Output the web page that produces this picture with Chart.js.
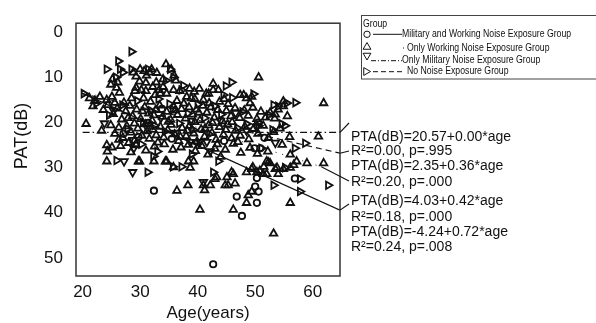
<!DOCTYPE html>
<html lang="en">
<head>
<meta charset="UTF-8">
<title>PAT by age</title>
<style>
  html, body { margin: 0; padding: 0; background: #fff; }
  #wrap { width: 596px; height: 323px; position: relative; }
</style>
</head>
<body>
<div id="wrap"><canvas id="chart"></canvas></div>
<script src="https://cdn.jsdelivr.net/npm/chart.js"></script>
<script>
const xTicks = [20, 30, 40, 50, 60];
const yTicks = [0, 10, 20, 30, 40, 50];
const groupLabels = [
    'Military and Working Noise Exposure Group',
    'Only Working Noise Exposure Group',
    'Only Military Noise Exposure Group',
    'No Noise Exposure Group'
];

// [age, dB]
const milWorkPts = [
    [27.1,22.5],[29.7,23.2],[31.4,20.1],[33.8,17.0],[35.5,23.6],[38.9,19.8],[44.6,24.1],[49.9,25.7],
    [50.9,25.7],[51.6,23.4],[50.5,20.0],[56.9,32.4],[32.4,35.1],[42.7,51.4],[46.8,36.4],[47.7,40.7],
    [50.6,35.3],[50.3,37.8],[50.3,32.3],[50.0,34.2]
];
const workPts = [
    // upper
    [25.2,10.4],[24.9,11.6],[26.1,11.1],[25.9,12.3],[28.8,8.9],[29.3,9.8],[30.0,8.2],[29.9,10.9],[30.7,8.6],
    [31.1,9.6],[31.6,8.9],[31.0,11.2],[32.0,8.2],[32.2,12.1],[32.9,9.0],[32.8,11.1],[30.2,12.8],[29.3,12.3],
    [31.0,13.0],[33.3,12.8],[34.5,7.1],[35.4,8.2],[35.9,9.6],[36.2,10.7],[34.0,10.4],[34.0,12.1],[42.7,11.4],
    [43.6,12.8],[50.6,10.0],[38.6,12.5],[40.3,12.5],[41.5,13.6],[36.9,13.0],
    // 12-16
    [23.0,14.3],[24.2,15.0],[25.1,14.3],[25.6,15.6],[26.4,13.4],[27.2,15.6],[28.5,14.6],[29.1,13.0],[30.6,14.6],
    [31.8,15.4],[32.6,13.9],[33.5,13.6],[34.6,13.6],[35.8,12.8],[36.4,15.2],[38.1,14.3],[39.4,13.2],[39.5,14.8],
    [41.0,15.0],[41.9,13.6],[42.0,15.7],[42.7,12.8],[43.8,15.4],[44.6,14.8],[47.4,13.9],[48.0,13.9],[48.5,14.6],
    [49.4,14.3],[49.1,15.7],[45.3,15.9],[54.9,16.4],[61.9,15.7],[37.6,15.8],[38.9,14.6],[22.1,15.2],[21.2,14.6],
    [53.5,18.2],[54.9,15.3],
    // 16-20
    [21.8,16.4],[23.6,17.2],[24.4,16.1],[25.3,18.1],[26.0,16.9],[26.8,19.3],[27.5,17.5],[28.2,16.3],[28.7,18.6],
    [29.4,17.1],[30.1,19.2],[30.8,16.6],[31.5,18.0],[32.1,19.6],[32.7,17.2],[33.4,16.2],[33.9,18.7],[34.6,17.6],
    [35.3,19.4],[35.8,16.4],[36.5,18.3],[37.2,17.0],[37.9,19.1],[38.5,16.6],[39.1,18.2],[39.8,17.1],[40.4,19.5],
    [40.9,16.3],[41.6,17.8],[42.3,16.6],[42.9,18.9],[43.5,17.2],[44.3,19.7],[45.0,17.4],[45.8,18.6],[46.5,16.8],
    [47.3,19.0],[48.1,17.3],[48.8,18.5],[49.6,16.7],[50.3,19.2],[51.0,17.6],[51.8,18.9],[52.6,17.8],[53.4,19.1],
    [54.0,17.1],[55.6,18.6],[27.9,19.0],[30.4,17.5],[32.4,18.4],[34.9,19.8],[36.1,17.3],[39.5,19.9],[40.2,17.8],
    [46.0,19.9],
    // 20-24
    [20.6,20.3],[23.3,21.8],[24.9,20.6],[25.6,22.5],[26.3,21.1],[27.0,23.4],[27.7,20.8],[28.4,22.2],[29.0,24.0],
    [29.6,21.3],[30.3,22.9],[30.9,20.4],[31.6,23.6],[32.2,21.6],[32.8,22.8],[33.5,20.9],[34.1,23.3],[34.8,21.7],
    [35.4,20.5],[36.0,22.6],[36.7,24.1],[37.3,21.2],[38.0,23.0],[38.6,20.7],[39.3,22.4],[39.9,24.2],[40.6,21.5],
    [41.2,23.1],[41.9,20.6],[42.5,22.3],[43.2,23.8],[43.8,21.0],[44.5,22.7],[45.2,20.4],[45.9,23.5],[46.6,21.8],
    [47.4,22.9],[48.2,20.9],[48.9,23.7],[49.7,21.4],[50.5,22.5],[51.4,20.7],[52.3,23.4],[53.2,22.1],[54.3,21.3],
    [56.0,23.2],[61.0,23.1],[29.0,20.2],[31.2,21.9],[37.0,23.2],[38.2,21.8],[41.3,21.3],[42.6,20.1],[44.9,21.6],
    [26.3,23.8],
    // 24-28
    [24.3,26.4],[24.2,25.0],[25.1,25.5],[26.6,25.2],[28.4,26.6],[29.3,25.0],[31.0,26.2],[32.5,25.3],[34.2,24.8],
    [35.7,26.0],[37.1,25.5],[38.4,24.9],[39.6,26.3],[40.7,25.2],[41.8,27.1],[43.0,25.8],[44.0,27.6],[44.8,26.0],
    [46.2,24.7],[47.5,26.7],[49.1,25.6],[50.4,26.9],[52.2,26.4],[54.7,24.9],[56.1,27.1],[33.1,24.4],[43.4,24.8],
    [47.0,24.3],[28.0,24.5],
    // 28 and lower
    [24.2,28.6],[29.7,28.6],[29.9,28.6],[32.4,28.6],[34.4,28.6],[34.6,28.6],[35.8,29.9],[36.4,35.1],[38.3,33.9],
    [38.4,28.6],[38.7,30.0],[39.3,28.6],[40.4,39.3],[41.0,33.9],[41.2,35.0],[42.2,33.9],[43.3,32.1],[43.0,32.5],
    [44.8,33.9],[45.1,32.1],[45.3,33.9],[46.2,31.4],[46.5,33.5],[45.9,31.0],[46.2,39.3],[48.8,36.1],[49.4,35.3],
    [48.5,37.8],[48.5,31.0],[49.4,30.3],[50.3,31.0],[51.4,31.4],[49.6,29.9],[50.8,30.7],[52.0,31.4],[51.5,29.8],
    [52.0,28.6],[52.6,29.0],[53.8,30.0],[54.0,31.4],[54.9,30.3],[56.1,30.0],[56.7,29.4],[57.2,28.6],[53.2,44.6],
    [56.1,37.8],[59.0,29.0],[61.9,29.0],[52.3,28.8],[53.5,30.3]
];
const milPts = [
    [27.2,28.6],[28.7,31.0],[28.9,25.7],[28.8,23.9],[31.2,21.1],[33.6,19.0],[36.2,22.3],[38.7,24.3],[39.8,24.3],
    [40.4,24.3],[41.6,24.3],[41.0,33.2],[42.2,26.4],[44.0,19.6],[46.6,17.9],[48.5,21.8],[50.2,20.9],[53.5,24.5],
    [23.8,20.2],[25.4,17.4]
];
const nonePts = [
    [28.5,4.3],[24.2,8.2],[26.2,6.4],[26.5,8.2],[27.0,8.9],[25.8,10.0],[28.5,8.2],[31.4,8.2],[35.2,8.2],
    [35.8,10.0],[34.5,10.7],[37.2,12.8],[45.9,11.1],[44.5,13.9],[49.7,13.7],[54.0,16.4],[55.5,15.7],[57.0,15.6],
    [53.2,16.1],[54.6,20.3],[20.2,13.6],[25.9,28.4],[31.3,31.0],[32.3,27.5],[35.7,29.8],[37.2,29.8],[42.7,31.0],
    [43.6,28.6],[53.2,33.9],[57.8,32.5],[62.7,33.9],[57.8,35.3],[58.7,24.6],[56.9,25.7],[55.2,30.0],
    [22.4,15.8],[24.6,18.4],[26.9,16.1],[27.8,21.4],[29.5,15.2],[30.5,20.0],[31.9,17.4],[32.5,20.7],[33.2,14.8],
    [34.3,22.0],[35.1,15.9],[35.7,17.1],[36.8,20.2],[37.5,11.8],[38.3,18.0],[39.2,21.6],[40.0,16.0],[41.2,19.0],
    [42.0,22.6],[43.0,16.4],[44.1,18.2],[44.9,11.9],[46.0,14.5],[46.9,21.2],[47.8,17.6],[48.5,20.3],[50.6,20.7],
    [51.1,25.7],[52.4,18.3],[53.0,21.6],[55.2,20.7],[30.2,24.8],[33.0,26.4],[39.0,27.0]
];

// fitted lines as drawn in the picture (end points)
const milWorkFit = [[19.9, 13.5], [64.75, 39.4]];
const workFit = [[19.9, 13.0], [61.5, 29.8]];
const milFit = [[20.0, 22.2], [64.75, 22.2]];
const noneFit = [[19.9, 13.6], [64.75, 26.8]];

const eqLines = [
    'PTA(dB)=20.57+0.00*age', 'R²=0.00, p=.995',
    'PTA(dB)=2.35+0.36*age', 'R²=0.20, p=.000',
    'PTA(dB)=4.03+0.42*age', 'R²=0.18, p=.000',
    'PTA(dB)=-4.24+0.72*age', 'R²=0.24, p=.008'
];

const ink = '#111';
const FONT = '"Liberation Sans", Arial, Helvetica, sans-serif';
const toXY = pts => pts.map(p => ({ x: p[0], y: p[1] }));

function pointSet(label, pts, style, rot, r) {
    return {
        label: label, data: toXY(pts), showLine: false,
        pointStyle: style, pointRotation: rot, pointRadius: r,
        pointBorderColor: ink, pointBackgroundColor: 'rgba(0,0,0,0)', pointBorderWidth: 1.8
    };
}
function fitSet(pts, dash, w) {
    return {
        data: toXY(pts), showLine: true, pointRadius: 0, fill: false,
        borderColor: ink, borderWidth: w, borderDash: dash
    };
}

// frame, leaders, equations, axis titles and legend
const extras = {
    id: 'extras',
    afterDraw(chart) {
        const ctx = chart.ctx, ca = chart.chartArea;
        const sx = chart.scales.x, sy = chart.scales.y;
        ctx.save();
        ctx.strokeStyle = '#333';
        ctx.lineWidth = 1.5;
        ctx.strokeRect(ca.left, ca.top, ca.right - ca.left, ca.bottom - ca.top);

        // leader lines from line ends to the equations
        const leaders = [[milFit, 349, 123], [noneFit, 349, 151], [workFit, 349, 181], [milWorkFit, 349, 204]];
        ctx.strokeStyle = ink;
        ctx.lineWidth = 1.1;
        leaders.forEach(l => {
            const end = l[0][l[0].length - 1];
            ctx.beginPath();
            ctx.moveTo(sx.getPixelForValue(end[0]), sy.getPixelForValue(end[1]));
            ctx.lineTo(l[1], l[2]);
            ctx.stroke();
        });

        ctx.fillStyle = ink;
        ctx.font = '14px ' + FONT;
        ctx.textBaseline = 'middle';
        ctx.textAlign = 'left';
        const eqY = [137, 151, 166, 182, 201, 217, 232, 247];
        eqLines.forEach((t, i) => ctx.fillText(t, 351, eqY[i]));

        // axis titles
        ctx.textAlign = 'center';
        ctx.font = '17px ' + FONT;
        ctx.fillText('Age(years)', (ca.left + ca.right) / 2, 313);
        ctx.save();
        ctx.translate(22, 136);
        ctx.rotate(-Math.PI / 2);
        ctx.font = '18px ' + FONT;
        ctx.fillText('PAT(dB)', 0, 0);
        ctx.restore();

        // legend
        ctx.lineWidth = 1;
        ctx.strokeStyle = '#444';
        ctx.strokeRect(361.5, 15.5, 240, 63.5);
        ctx.font = '10px ' + FONT;
        ctx.textAlign = 'left';
        const squeezed = (t, x, y) => {
            ctx.save();
            ctx.translate(x, y);
            ctx.scale(0.87, 1);
            ctx.fillText(t, 0, 0);
            ctx.restore();
        };
        squeezed('Group', 363, 24);
        const rowY = [34.3, 48, 60.7, 71.7];
        const textX = [402, 407, 402, 407];
        groupLabels.forEach((t, i) => squeezed(t, textX[i], rowY[i]));

        const marks = [
            ['circle', 0, 3.2, 367, 34.3],
            ['triangle', 0, 4.5, 367, 47],
            ['triangle', 180, 4.5, 367, 55.5],
            ['triangle', 90, 4.5, 366, 71.5]
        ];
        ctx.strokeStyle = ink;
        ctx.fillStyle = 'rgba(0,0,0,0)';
        marks.forEach(m => {
            Chart.helpers.drawPoint(ctx, { pointStyle: m[0], rotation: m[1], radius: m[2], borderWidth: 1 }, m[3], m[4]);
        });

        const samples = [[373, 402, rowY[0], []], [403, 405, rowY[1], [1, 3]], [371, 402, rowY[2], [5, 2, 1, 2]], [373, 405, rowY[3], [5, 3]]];
        ctx.lineWidth = 1;
        samples.forEach(s => {
            ctx.setLineDash(s[3]);
            ctx.beginPath();
            ctx.moveTo(s[0], s[2]);
            ctx.lineTo(s[1], s[2]);
            ctx.stroke();
        });
        ctx.restore();
    }
};

new Chart(document.getElementById('chart').getContext('2d'), {
    type: 'scatter',
    data: {
        datasets: [
            fitSet(milWorkFit, [], 1.3),
            fitSet(workFit, [1, 6], 1),
            fitSet(milFit, [7, 3, 1.5, 3], 1.2),
            fitSet(noneFit, [6, 4], 1.2),
            pointSet(groupLabels[0], milWorkPts, 'circle', 0, 3.2),
            pointSet(groupLabels[1], workPts, 'triangle', 0, 4.3),
            pointSet(groupLabels[2], milPts, 'triangle', 180, 4.3),
            pointSet(groupLabels[3], nonePts, 'triangle', 90, 4.3)
        ]
    },
    options: {
        responsive: true,
        maintainAspectRatio: false,
        animation: false,
        devicePixelRatio: 1,
        layout: { padding: { top: 14, right: 256, left: 0, bottom: 0 } },
        plugins: { legend: { display: false }, tooltip: { enabled: false } },
        scales: {
            x: {
                type: 'linear', min: 18.85, max: 64.75,
                grid: { display: false, drawTicks: false },
                border: { display: false },
                afterBuildTicks: axis => { axis.ticks = xTicks.map(v => ({ value: v })); },
                afterFit: axis => { axis.height = 47; },
                ticks: { color: ink, padding: 6, font: { size: 17, family: FONT } }
            },
            y: {
                type: 'linear', reverse: true, min: -2, max: 54,
                grid: { display: false, drawTicks: false },
                border: { display: false },
                afterBuildTicks: axis => { axis.ticks = yTicks.map(v => ({ value: v })); },
                afterFit: axis => { axis.width = 76; },
                ticks: { color: ink, padding: 13, font: { size: 17, family: FONT } }
            }
        }
    },
    plugins: [extras]
});
</script>
</body>
</html>
